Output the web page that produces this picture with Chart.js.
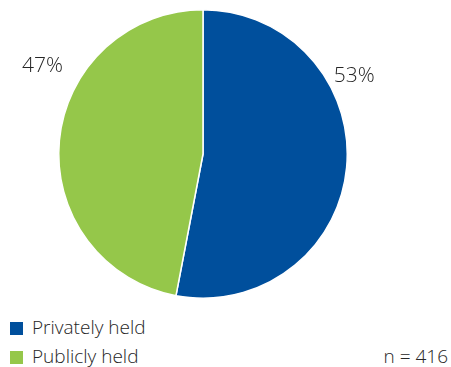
<!DOCTYPE html>
<html>
<head>
<meta charset="utf-8">
<script src="https://cdn.jsdelivr.net/npm/chart.js@4.4.0/dist/chart.umd.min.js"></script>
<style>
  html, body { margin: 0; padding: 0; background: #fff; }
  #wrap { position: relative; width: 451px; height: 367px; font-family: "Open Sans", sans-serif; font-weight: 300; color: #262626; }
  #chartBox { position: absolute; left: 0; top: 0; width: 451px; height: 310px; }
  #legend { position: absolute; left: 10px; top: 313px; font-size: 19px; line-height: 29px; }
  #legend .item { display: flex; align-items: center; white-space: nowrap; }
  #legend .box { width: 13px; height: 13px; margin-right: 9px; margin-top: 2px; }
  #note { position: absolute; right: 3px; top: 342px; font-size: 19px; line-height: 29px; }
</style>
</head>
<body>
<div id="wrap">
  <div id="chartBox"><canvas id="myChart"></canvas></div>
  <div id="legend"></div>
  <div id="note"></div>
</div>
<script>
const categories = ['Privately held', 'Publicly held'];
const shares = [53, 47];
const pctLabels = ['53%', '47%'];
const sampleNote = 'n = 416';

const colors = ['#004f9c', '#95c74a'];

// where each percentage sits, as angle from 12 o'clock (deg) and multiple of the radius
const labelSpots = [
    { angle: 62.7, dist: 1.18 },
    { angle: -61.2, dist: 1.27 }
];

const pctLabelPlugin = {
    id: 'pctLabels',
    afterDraw(chart) {
        const ctx = chart.ctx;
        const arcs = chart.getDatasetMeta(0).data;
        ctx.save();
        ctx.font = '300 21px "Open Sans", sans-serif';
        ctx.fillStyle = '#262626';
        ctx.textAlign = 'center';
        ctx.textBaseline = 'middle';
        arcs.forEach((arc, i) => {
            const spot = labelSpots[i];
            const a = spot.angle * Math.PI / 180;
            const r = arc.outerRadius * spot.dist;
            ctx.fillText(pctLabels[i], arc.x + Math.sin(a) * r, arc.y - Math.cos(a) * r);
        });
        ctx.restore();
    }
};

document.addEventListener('DOMContentLoaded', () => {
    const ctx = document.getElementById('myChart').getContext('2d');

    new Chart(ctx, {
        type: 'pie',
        data: {
            labels: categories,
            datasets: [{
                data: shares,
                backgroundColor: colors,
                borderColor: '#ffffff',
                borderWidth: 1.5
            }]
        },
        options: {
            responsive: true,
            maintainAspectRatio: false,
            animation: false,
            layout: { padding: { left: 58, right: 103, top: 9, bottom: 11 } },
            plugins: {
                legend: { display: false },
                tooltip: { enabled: false }
            }
        },
        plugins: [pctLabelPlugin]
    });

    const legend = document.getElementById('legend');
    categories.forEach((c, i) => {
        const item = document.createElement('div');
        item.className = 'item';
        item.innerHTML = '<span class="box" style="background:' + colors[i] + '"></span><span>' + c + '</span>';
        legend.appendChild(item);
    });
    document.getElementById('note').textContent = sampleNote;
});
</script>
</body>
</html>
